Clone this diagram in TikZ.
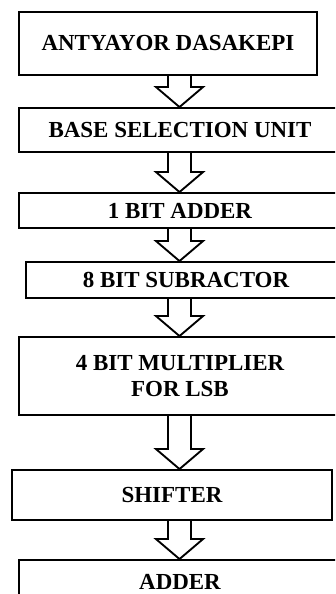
\documentclass[tikz,border=0pt]{standalone}
\usepackage{fontspec}
\setmainfont{Liberation Serif}
\usetikzlibrary{calc}

\tikzset{
    stage/.style={draw, rectangle, line width=1.6pt, inner sep=0pt, align=center,
        font=\fontsize{19.6}{21.5}\selectfont\bfseries},
    flowarrow/.style={line width=1.6pt, line join=miter}
}

% hollow block arrow from the bottom of one stage to the top of the next
\newcommand{\flowstep}[2]{%
    \draw[flowarrow] let \p1=(#1.south -| spine), \p2=(#2.north -| spine) in
        ({\x1-0.345cm},\y1) -- ({\x1-0.345cm},{\y2+0.6cm}) -- ({\x1-0.705cm},{\y2+0.6cm})
        -- (\x2,\y2) -- ({\x1+0.705cm},{\y2+0.6cm}) -- ({\x1+0.345cm},{\y2+0.6cm})
        -- ({\x1+0.345cm},\y1);}

\begin{document}
\begin{tikzpicture}
    \useasboundingbox (0,0) rectangle (10.05,17.82);
    \clip (0,0) rectangle (10.05,17.82);
    \coordinate (spine) at (5.385,0);

    \node[stage, minimum width=8.94cm, minimum height=1.89cm] (dasa) at (5.04,16.515) {ANTYAYOR DASAKEPI};
    \node[stage, minimum width=9.66cm, minimum height=1.32cm] (base) at (5.40,13.92) {BASE SELECTION UNIT};
    \node[stage, minimum width=9.66cm, minimum height=1.05cm] (add1) at (5.40,11.505) {1 BIT ADDER};
    \node[stage, minimum width=9.60cm, minimum height=1.08cm] (sub8) at (5.58,9.42) {8 BIT SUBRACTOR};
    \node[stage, minimum width=9.66cm, minimum height=2.34cm] (mul4) at (5.40,6.54) {4 BIT MULTIPLIER\\FOR LSB};
    \node[stage, minimum width=9.60cm, minimum height=1.50cm] (shift) at (5.16,2.97) {SHIFTER};
    \node[stage, minimum width=9.66cm, minimum height=1.32cm] (adder) at (5.40,0.36) {ADDER};

    \flowstep{dasa}{base}
    \flowstep{base}{add1}
    \flowstep{add1}{sub8}
    \flowstep{sub8}{mul4}
    \flowstep{mul4}{shift}
    \flowstep{shift}{adder}
\end{tikzpicture}
\end{document}
